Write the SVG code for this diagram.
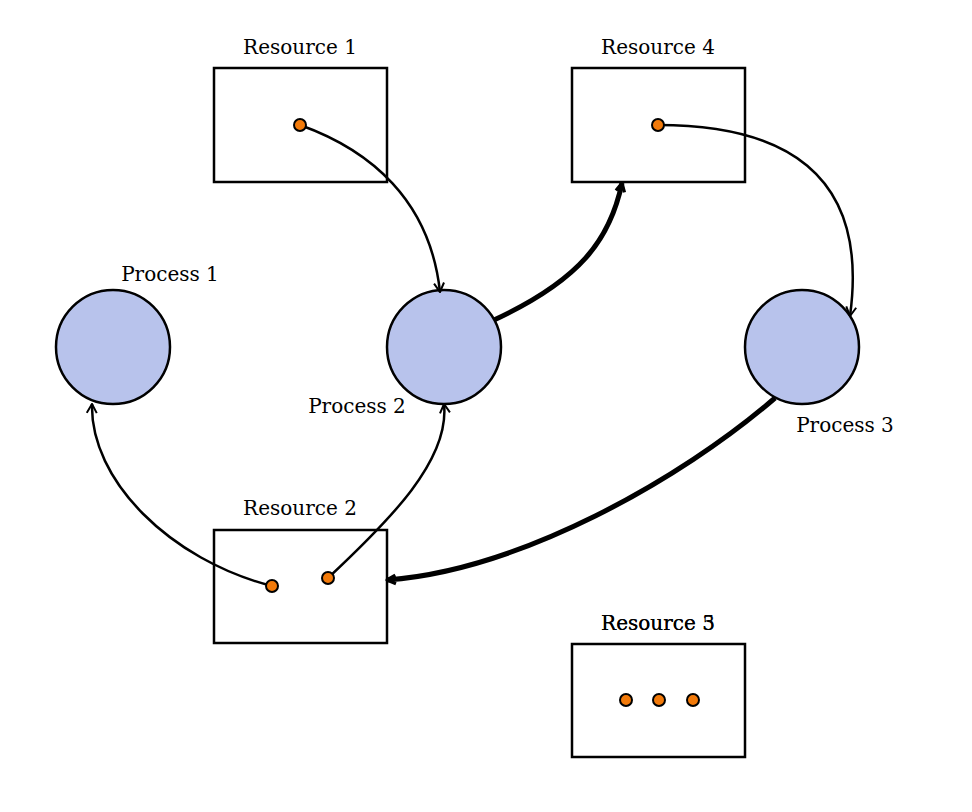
<svg xmlns="http://www.w3.org/2000/svg" width="972" height="812" viewBox="0 0 972 812">
<defs>
<style>
text{font-family:"DejaVu Serif","Liberation Serif",serif;font-size:20px;fill:#000;text-anchor:middle}
.r{fill:#fff;stroke:#000;stroke-width:2.5}
.p{fill:#b8c3ec;stroke:#000;stroke-width:2.5}
.d{fill:#f27a0a;stroke:#000;stroke-width:2}
.e{fill:none;stroke:#000;stroke-width:2.5}
.t{fill:none;stroke:#000;stroke-width:5}
</style>
<marker id="a" viewBox="-1 -1 12 12" refX="10" refY="5" markerWidth="12" markerHeight="12" orient="auto" markerUnits="userSpaceOnUse"><path d="M1,0 L10,5 L1,10" fill="none" stroke="#000" stroke-width="2"/></marker>
<marker id="b" viewBox="-1 -1 12 12" refX="9" refY="5" markerWidth="13" markerHeight="13" orient="auto" markerUnits="userSpaceOnUse"><path d="M1,1 L9,5 L1,9" fill="none" stroke="#000" stroke-width="3" stroke-linejoin="round"/></marker>
</defs>
<g id="resource1"><rect class="r" x="214" y="68" width="173" height="114"/><text x="300" y="54">Resource 1</text></g>
<g id="resource4"><rect class="r" x="572" y="68" width="173" height="114"/><text x="658" y="54">Resource 4</text></g>
<g id="resource2"><rect class="r" x="214" y="530" width="173" height="113"/><text x="300" y="515">Resource 2</text></g>
<g id="resource3"><rect class="r" x="572" y="644" width="173" height="113"/><text x="658" y="630">Resource 3</text><text x="658" y="630">Resource 5</text><circle class="d" cx="626" cy="700" r="6"/><circle class="d" cx="659" cy="700" r="6"/><circle class="d" cx="693" cy="700" r="6"/></g>
<g id="process1"><circle class="p" cx="113" cy="347" r="57"/><text x="170" y="281">Process 1</text></g>
<g id="process2"><circle class="p" cx="444" cy="347" r="57"/><text x="357" y="413">Process 2</text></g>
<g id="process3"><circle class="p" cx="802" cy="347" r="57"/><text x="845" y="432">Process 3</text></g>
<g id="connectors">
<path class="e" d="M300,125 C370,150 430,200 440,292" marker-end="url(#a)"/>
<path class="t" d="M494,320 C580,280 610,240 622,183" marker-end="url(#b)"/>
<path class="e" d="M658,125 C780,125 870,170 850,316" marker-end="url(#a)"/>
<path class="t" d="M775,398 C680,480 520,570 387,580" marker-end="url(#b)"/>
<path class="e" d="M272,586 C170,560 90,480 92,404" marker-end="url(#a)"/>
<path class="e" d="M328,578 C390,520 450,460 444,404" marker-end="url(#a)"/>
</g>
<g id="ports">
<circle class="d" cx="300" cy="125" r="6"/>
<circle class="d" cx="658" cy="125" r="6"/>
<circle class="d" cx="272" cy="586" r="6"/>
<circle class="d" cx="328" cy="578" r="6"/>
</g>
</svg>
